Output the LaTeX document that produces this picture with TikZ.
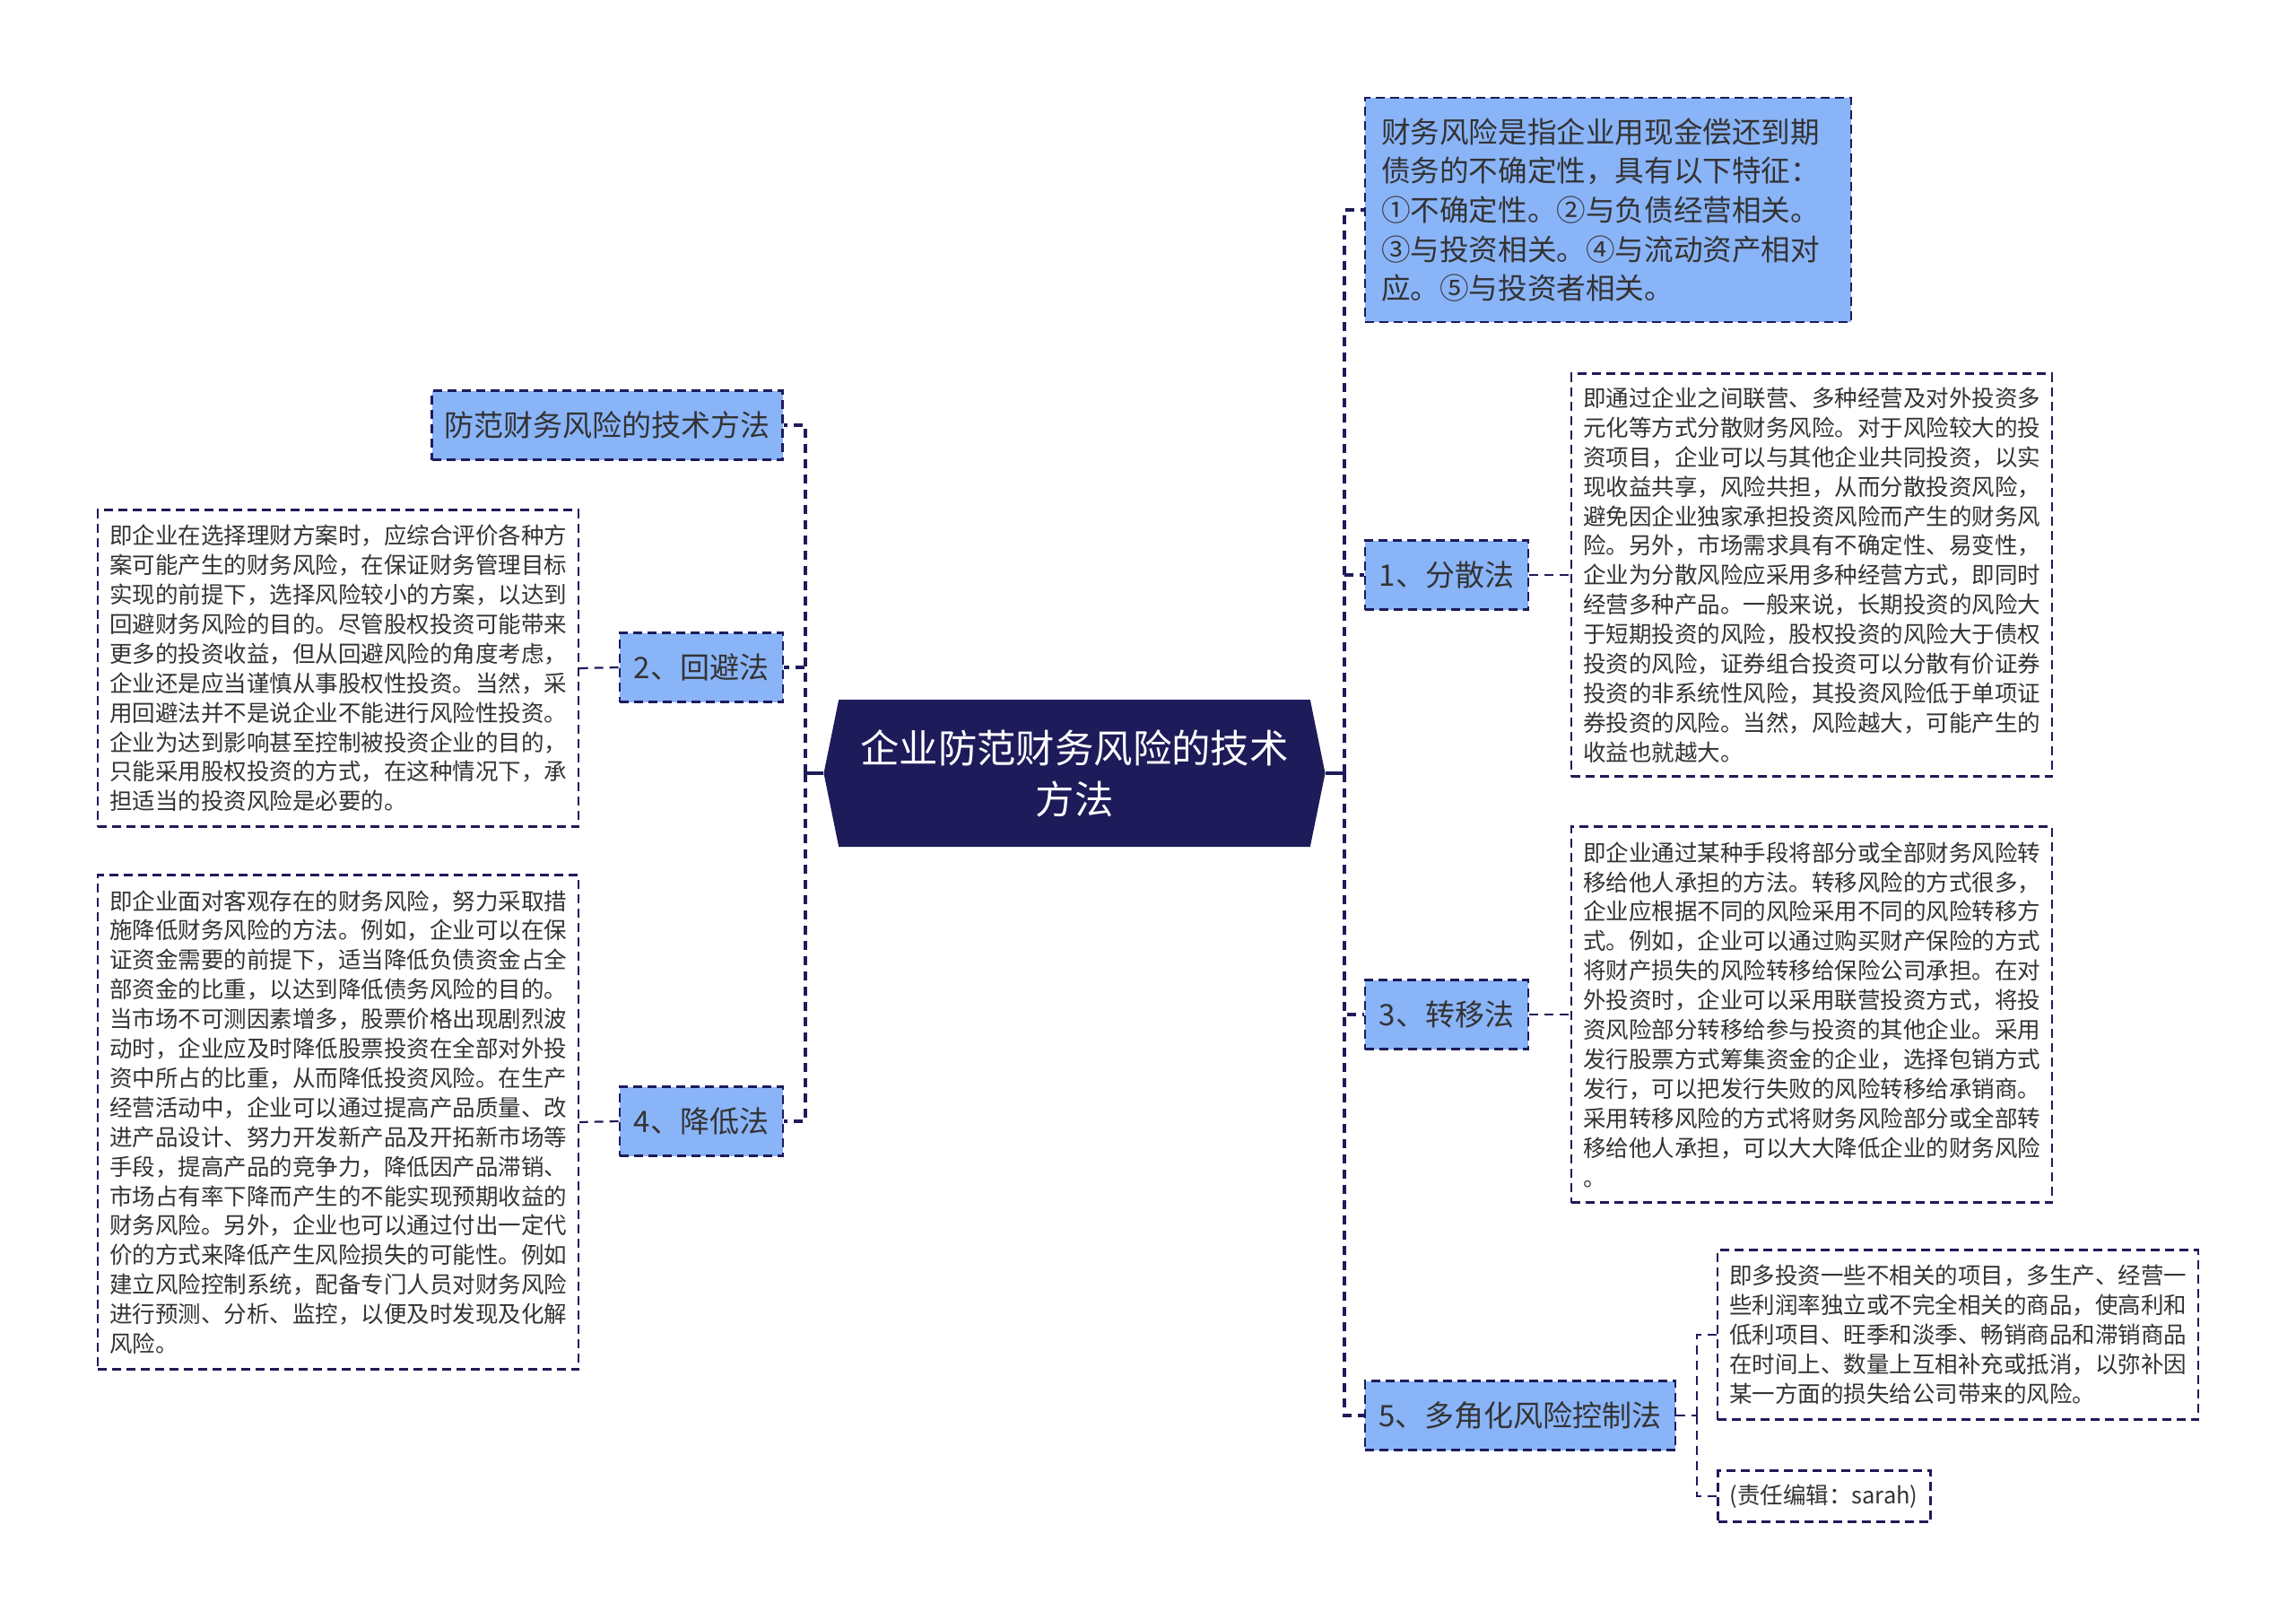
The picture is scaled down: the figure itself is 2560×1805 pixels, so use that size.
\documentclass[tikz,border=0pt]{standalone}
\usepackage{fontspec}
\setmainfont{Noto Sans CJK SC}
\usetikzlibrary{shapes.symbols}
\definecolor{navy}{HTML}{1E1B5A}
\definecolor{skyblue}{HTML}{8AB4F8}
\definecolor{inkgray}{HTML}{333333}

\begin{document}
\begin{tikzpicture}[x=0.5pt,y=-0.5pt,
    rootnode/.style={signal,signal to=west and east,signal pointer angle=157,fill=navy,text=white,
      minimum width=279.5pt,minimum height=82pt,inner sep=0pt,align=center,
      font=\fontsize{21.7}{28.6}\selectfont},
    topic/.style={draw=navy,line width=1.3pt,dash pattern=on 5pt off 3pt,fill=skyblue,text=inkgray,
      minimum height=38.5pt,inner sep=0pt,font=\fontsize{16.5}{21}\selectfont},
    leaf/.style={draw=navy,line width=1.1pt,dash pattern=on 5pt off 3pt,fill=white,text=inkgray,
      text width=255pt,inner xsep=6.5pt,inner ysep=0pt,align=left,
      font=\fontsize{12.75}{16.45}\selectfont},
    trunk/.style={draw=navy,line width=2pt,dash pattern=on 5pt off 3.5pt},
    twig/.style={draw=navy,line width=1.1pt,dash pattern=on 5pt off 3.5pt}]

  \useasboundingbox (0,0) rectangle (2560,1805);

  \node [rootnode] (root) at (1198,862) {企业防范财务风险的技术\\方法};

  \coordinate (jl) at (898,862);
  \coordinate (jr) at (1499,862);
  \coordinate (j5) at (1892,1578);

  \node [topic,minimum width=195.5pt] (method) at (677,474) {防范财务风险的技术方法};
  \node [topic,minimum width=91pt] (n2) at (782,744) {2、回避法};
  \node [topic,minimum width=91pt] (n4) at (782,1250) {4、降低法};

  \node [topic,minimum height=125pt,text width=253pt,inner xsep=9pt,align=left,
    font=\fontsize{16.3}{21.85}\selectfont] (risk) at (1793,234)
    {财务风险是指企业用现金偿还到期\\债务的不确定性，具有以下特征：\\①不确定性。②与负债经营相关。\\③与投资相关。④与流动资产相对\\应。⑤与投资者相关。};
  \node [topic,minimum width=91pt] (n1) at (1613,641) {1、分散法};
  \node [topic,minimum width=91pt] (n3) at (1613,1131) {3、转移法};
  \node [topic,minimum width=173pt] (n5) at (1695,1578) {5、多角化风险控制法};

  \node [leaf,minimum height=176.5pt] (t2) at (377,745)
    {即企业在选择理财方案时，应综合评价各种方\\案可能产生的财务风险，在保证财务管理目标\\实现的前提下，选择风险较小的方案，以达到\\回避财务风险的目的。尽管股权投资可能带来\\更多的投资收益，但从回避风险的角度考虑，\\企业还是应当谨慎从事股权性投资。当然，采\\用回避法并不是说企业不能进行风险性投资。\\企业为达到影响甚至控制被投资企业的目的，\\只能采用股权投资的方式，在这种情况下，承\\担适当的投资风险是必要的。};
  \node [leaf,minimum height=275.5pt] (t4) at (377,1251)
    {即企业面对客观存在的财务风险，努力采取措\\施降低财务风险的方法。例如，企业可以在保\\证资金需要的前提下，适当降低负债资金占全\\部资金的比重，以达到降低债务风险的目的。\\当市场不可测因素增多，股票价格出现剧烈波\\动时，企业应及时降低股票投资在全部对外投\\资中所占的比重，从而降低投资风险。在生产\\经营活动中，企业可以通过提高产品质量、改\\进产品设计、努力开发新产品及开拓新市场等\\手段，提高产品的竞争力，降低因产品滞销、\\市场占有率下降而产生的不能实现预期收益的\\财务风险。另外，企业也可以通过付出一定代\\价的方式来降低产生风险损失的可能性。例如\\建立风险控制系统，配备专门人员对财务风险\\进行预测、分析、监控，以便及时发现及化解\\风险。};
  \node [leaf,minimum height=224.5pt] (t1) at (2020,641)
    {即通过企业之间联营、多种经营及对外投资多\\元化等方式分散财务风险。对于风险较大的投\\资项目，企业可以与其他企业共同投资，以实\\现收益共享，风险共担，从而分散投资风险，\\避免因企业独家承担投资风险而产生的财务风\\险。另外，市场需求具有不确定性、易变性，\\企业为分散风险应采用多种经营方式，即同时\\经营多种产品。一般来说，长期投资的风险大\\于短期投资的风险，股权投资的风险大于债权\\投资的风险，证券组合投资可以分散有价证券\\投资的非系统性风险，其投资风险低于单项证\\券投资的风险。当然，风险越大，可能产生的\\收益也就越大。};
  \node [leaf,minimum height=209.5pt] (t3) at (2020,1131)
    {即企业通过某种手段将部分或全部财务风险转\\移给他人承担的方法。转移风险的方式很多，\\企业应根据不同的风险采用不同的风险转移方\\式。例如，企业可以通过购买财产保险的方式\\将财产损失的风险转移给保险公司承担。在对\\外投资时，企业可以采用联营投资方式，将投\\资风险部分转移给参与投资的其他企业。采用\\发行股票方式筹集资金的企业，选择包销方式\\发行，可以把发行失败的风险转移给承销商。\\采用转移风险的方式将财务风险部分或全部转\\移给他人承担，可以大大降低企业的财务风险\\。};
  \node [leaf,minimum height=94.5pt] (t5) at (2183,1488)
    {即多投资一些不相关的项目，多生产、经营一\\些利润率独立或不完全相关的商品，使高利和\\低利项目、旺季和淡季、畅销商品和滞销商品\\在时间上、数量上互相补充或抵消，以弥补因\\某一方面的损失给公司带来的风险。};
  \node [leaf,text width=105.5pt,minimum height=28.5pt] (t6) at (2034,1668) {(责任编辑：sarah)};

  \draw [navy,line width=2pt] (root.west) -- (jl);
  \draw [navy,line width=2pt] (root.east) -- (jr);
  \draw [trunk] (jl) |- (method.east);
  \draw [trunk] (jl) |- (n2.east);
  \draw [trunk] (jl) |- (n4.east);
  \draw [trunk] (jr) |- (risk.west);
  \draw [trunk] (jr) |- (n1.west);
  \draw [trunk] (jr) |- (n3.west);
  \draw [trunk] (jr) |- (n5.west);

  \draw [twig] (n2.west) -- (t2.east);
  \draw [twig] (n4.west) -- (t4.east);
  \draw [twig] (n1.east) -- (t1.west);
  \draw [twig] (n3.east) -- (t3.west);
  \draw [twig] (n5.east) -- (j5);
  \draw [twig] (j5) |- (t5.west);
  \draw [twig] (j5) |- (t6.west);

\end{tikzpicture}
\end{document}
